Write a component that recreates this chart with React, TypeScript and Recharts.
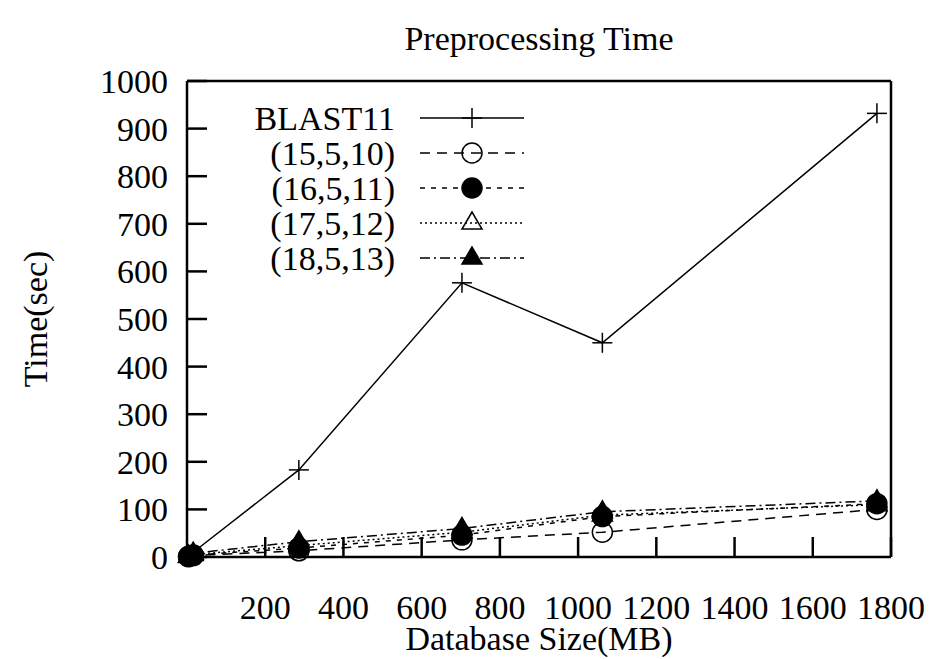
import { LineChart, Line, XAxis, YAxis } from 'recharts'

// database size (MB) and preprocessing time (sec) per method
const SIZES = [4, 16, 286, 703, 1062, 1764]
const BLAST11 = [3, 10, 183, 576, 450, 932]
const P15_5_10 = [1, 3, 13, 36, 52, 100]
const P16_5_11 = [1, 4, 19, 46, 85, 112]
const P17_5_12 = [1, 5, 24, 52, 88, 110]
const P18_5_13 = [2, 8, 32, 60, 95, 118]

const SERIES_NAMES = ['BLAST11', '(15,5,10)', '(16,5,11)', '(17,5,12)', '(18,5,13)']
const X_TICKS = [200, 400, 600, 800, 1000, 1200, 1400, 1600, 1800]
const Y_TICKS = [0, 100, 200, 300, 400, 500, 600, 700, 800, 900, 1000]

const data = SIZES.map((size, i) => ({
  size,
  blast: BLAST11[i],
  p15: P15_5_10[i],
  p16: P16_5_11[i],
  p17: P17_5_12[i],
  p18: P18_5_13[i],
}))

type Marker = 'plus' | 'circle' | 'dot' | 'triangle' | 'triangleFilled'

const STYLES: { key: string; dash?: string; marker: Marker }[] = [
  { key: 'blast', marker: 'plus' },
  { key: 'p15', dash: '10 7', marker: 'circle' },
  { key: 'p16', dash: '5 6', marker: 'dot' },
  { key: 'p17', dash: '2 3', marker: 'triangle' },
  { key: 'p18', dash: '10 4 2 4', marker: 'triangleFilled' },
]

const FONT = '"Liberation Serif", "Times New Roman", serif'
const FS = 34

function MarkerShape({ type, cx, cy }: { type: Marker; cx: number; cy: number }) {
  const sw = 1.5
  switch (type) {
    case 'plus':
      return (
        <g stroke="#000" strokeWidth={sw}>
          <line x1={cx - 10} y1={cy} x2={cx + 10} y2={cy} />
          <line x1={cx} y1={cy - 10} x2={cx} y2={cy + 10} />
        </g>
      )
    case 'circle':
      return <circle cx={cx} cy={cy} r={10} fill="none" stroke="#000" strokeWidth={sw} />
    case 'dot':
      return <circle cx={cx} cy={cy} r={10} fill="#000" stroke="#000" strokeWidth={sw} />
    case 'triangle':
    case 'triangleFilled':
      return (
        <polygon
          points={`${cx},${cy - 11} ${cx - 10},${cy + 6} ${cx + 10},${cy + 6}`}
          fill={type === 'triangle' ? 'none' : '#000'}
          stroke="#000"
          strokeWidth={sw}
        />
      )
  }
}

const makeDot = (type: Marker, key: string) => (props: any) => (
  <g key={`${key}-${props.index}`}>
    <MarkerShape type={type} cx={props.cx} cy={props.cy} />
  </g>
)

const axisLine = { stroke: '#000', strokeWidth: 2.5 }
const tickLine = { stroke: '#000', strokeWidth: 2.5 }
const tickStyle = { fill: '#000', fontSize: FS, fontFamily: FONT }

export default function App() {
  return (
    <div
      style={{
        position: 'absolute',
        left: 0,
        top: 0,
        width: 933,
        height: 659,
        background: '#fff',
        fontFamily: FONT,
      }}
    >
      <LineChart
        width={933}
        height={659}
        data={data}
        margin={{ top: 80, right: 41, bottom: 42, left: 127 }}
        style={{ fontFamily: FONT }}
      >
        <XAxis
          dataKey="size"
          type="number"
          domain={[0, 1800]}
          ticks={X_TICKS}
          height={60}
          axisLine={axisLine}
          tickLine={tickLine}
          tickSize={-20}
          tickMargin={58}
          tick={tickStyle}
        />
        <XAxis
          xAxisId="top"
          orientation="top"
          dataKey="size"
          type="number"
          domain={[0, 1800]}
          ticks={X_TICKS}
          height={1}
          axisLine={axisLine}
          tickLine={tickLine}
          tickSize={-20}
          tick={false}
        />
        <YAxis
          type="number"
          domain={[0, 1000]}
          ticks={Y_TICKS}
          width={60}
          axisLine={axisLine}
          tickLine={tickLine}
          tickSize={-20}
          tickMargin={39}
          tick={tickStyle}
        />
        <YAxis
          yAxisId="right"
          orientation="right"
          type="number"
          domain={[0, 1000]}
          ticks={Y_TICKS}
          width={1}
          axisLine={axisLine}
          tickLine={tickLine}
          tickSize={-20}
          tick={false}
        />
        {STYLES.map((s, i) => (
          <Line
            key={s.key}
            name={SERIES_NAMES[i]}
            dataKey={s.key}
            type="linear"
            stroke="#000"
            strokeWidth={1.5}
            strokeDasharray={s.dash}
            dot={makeDot(s.marker, s.key)}
            activeDot={false}
            isAnimationActive={false}
          />
        ))}
      </LineChart>

      {/* title, axis titles and legend drawn on top, gnuplot style */}
      <svg
        width={933}
        height={659}
        style={{ position: 'absolute', left: 0, top: 0, pointerEvents: 'none' }}
        fontFamily={FONT}
        fontSize={FS}
      >
        <text x={539} y={38} textAnchor="middle" dominantBaseline="central">
          Preprocessing Time
        </text>
        <text x={539} y={638} textAnchor="middle" dominantBaseline="central">
          Database Size(MB)
        </text>
        <text
          x={35}
          y={319}
          textAnchor="middle"
          dominantBaseline="central"
          transform="rotate(-90 35 319)"
        >
          Time(sec)
        </text>
        {STYLES.map((s, i) => {
          const y = 118 + i * 35
          return (
            <g key={s.key}>
              <text x={395} y={y} textAnchor="end" dominantBaseline="central">
                {SERIES_NAMES[i]}
              </text>
              <line x1={420} y1={y} x2={524} y2={y} stroke="#000" strokeWidth={1.5} strokeDasharray={s.dash} />
              <MarkerShape type={s.marker} cx={472} cy={y} />
            </g>
          )
        })}
      </svg>
    </div>
  )
}
